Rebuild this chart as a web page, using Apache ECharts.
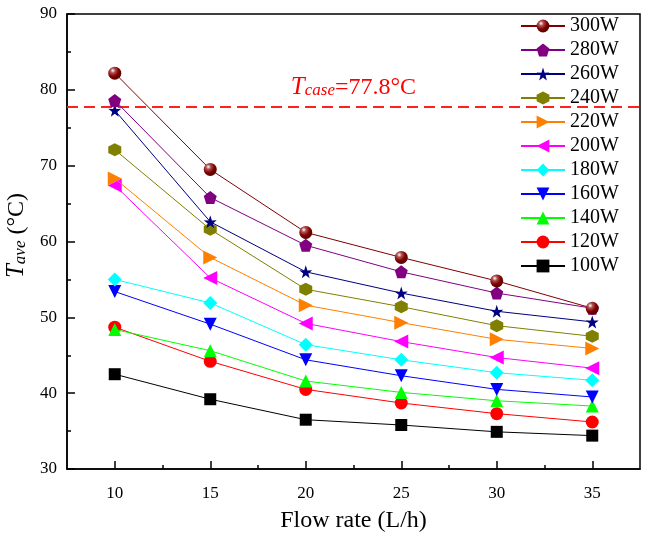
<!DOCTYPE html>
<html>
<head>
<meta charset="utf-8">
<script src="https://cdn.jsdelivr.net/npm/echarts@6/dist/echarts.min.js"></script>
<style>
html,body{margin:0;padding:0;background:#fff;}
#c{width:648px;height:538px;}
</style>
</head>
<body>
<div id="c"></div>
<script>
const flowRates = [10, 15, 20, 25, 30, 35];
const powerLabels = ['300W','280W','260W','240W','220W','200W','180W','160W','140W','120W','100W'];
const t300 = [82.2, 69.5, 61.2, 57.9, 54.8, 51.2];
const t280 = [78.6, 65.8, 59.5, 56.0, 53.2, 51.2];
const t260 = [77.3, 62.6, 56.0, 53.2, 50.8, 49.4];
const t240 = [72.1, 61.6, 53.7, 51.4, 48.9, 47.5];
const t220 = [68.3, 57.9, 51.6, 49.3, 47.1, 45.9];
const t200 = [67.4, 55.2, 49.2, 46.8, 44.7, 43.3];
const t180 = [55.0, 51.9, 46.4, 44.4, 42.7, 41.7];
const t160 = [53.4, 49.1, 44.4, 42.3, 40.5, 39.5];
const t140 = [48.4, 45.6, 41.6, 40.1, 39.0, 38.3];
const t120 = [48.7, 44.2, 40.5, 38.7, 37.3, 36.2];
const t100 = [42.5, 39.2, 36.5, 35.8, 34.9, 34.4];
const tCase = 77.8;
const xMajorTicks = [10, 15, 20, 25, 30, 35];
const xMinorTicks = [12.5, 17.5, 22.5, 27.5, 32.5];

const allValues = [t300, t280, t260, t240, t220, t200, t180, t160, t140, t120, t100];
const colors = ['#800000','#800080','#000080','#808000','#FF8000','#FF00FF','#00FFFF','#0000FF','#00FF00','#FF0000','#000000'];
const star = 'path://M50,0L62,36L98,35L69,57L79,91L50,70L21,91L31,57L2,35L38,36Z';
const symbols = [
  'circle',
  'path://M50,0L97.6,34.5L79.4,90.5L20.6,90.5L2.4,34.5Z',
  star,
  'path://M50,0L93.3,25L93.3,75L50,100L6.7,75L6.7,25Z',
  'path://M0,0L10,5L0,10Z',
  'path://M10,0L0,5L10,10Z',
  'diamond',
  'path://M0,0L10,0L5,10Z',
  'triangle',
  'circle',
  'rect'
];
const sizes = [13, 13, 13, 13, 14, 14, 14, 13, 13, 13, 12];
const serif = '"Liberation Serif","Times New Roman",serif';

const series = allValues.map((vals, i) => {
  let color = colors[i];
  let itemColor = color;
  if (i === 0) {
    itemColor = {type:'radial', x:0.35, y:0.3, r:0.75, colorStops:[
      {offset:0, color:'#ffffff'}, {offset:0.25, color:'#b05050'}, {offset:0.6, color:'#800000'}, {offset:1, color:'#500000'}]};
  }
  const s = {
    name: powerLabels[i],
    type: 'line',
    data: flowRates.map((x, j) => [x, vals[j]]),
    symbol: symbols[i],
    symbolSize: sizes[i],
    showAllSymbol: true,
    lineStyle: {color: color, width: 1},
    itemStyle: {color: itemColor, borderWidth: 0},
    emphasis: {disabled: true},
    z: 20 - i,
    animation: false
  };
  if (i === 0) {
    s.markLine = {
      silent: true,
      symbol: 'none',
      animation: false,
      lineStyle: {color: '#FF2020', type: [11, 6], width: 2},
      data: [{yAxis: tCase}],
      label: {
        show: true,
        position: 'insideMiddleTop',
        distance: 7,
        formatter: '{t|T}{s|case}{n|=' + tCase.toFixed(1) + '°C}',
        rich: {
          t: {fontFamily: serif, fontStyle: 'italic', fontSize: 25, color: '#FF0000', lineHeight: 26, verticalAlign: 'bottom'},
          s: {fontFamily: serif, fontStyle: 'italic', fontSize: 17, color: '#FF0000', lineHeight: 26, verticalAlign: 'bottom', padding: [12, 0, 0, 0]},
          n: {fontFamily: serif, fontSize: 24, color: '#FF0000', lineHeight: 26, verticalAlign: 'bottom'}
        }
      }
    };
  }
  return s;
});

const chart = echarts.init(document.getElementById('c'), null, {renderer: 'canvas'});
chart.setOption({
  backgroundColor: '#fff',
  animation: false,
  grid: {left: 67, right: 8, top: 14, bottom: 69, show: true, borderColor: '#000', borderWidth: 1.5, backgroundColor: 'transparent', outerBoundsMode: 'none', containLabel: false},
  legend: {
    orient: 'vertical',
    left: 520,
    top: 16,
    padding: 0,
    itemWidth: 44,
    itemHeight: 16,
    itemGap: 4,
    data: powerLabels,
    textStyle: {fontFamily: serif, fontSize: 20, color: '#000'},
    selectedMode: false
  },
  xAxis: [{
    type: 'value',
    min: 7.5,
    max: 37.5,
    interval: 2.5,
    name: 'Flow rate (L/h)',
    nameLocation: 'middle',
    nameGap: 40,
    nameTextStyle: {fontFamily: serif, fontSize: 24, color: '#000'},
    axisLine: {show: true, onZero: false, lineStyle: {color: '#000', width: 1.5}},
    axisTick: {show: true, inside: true, length: 8, customValues: xMajorTicks, lineStyle: {color: '#000', width: 1.5}},
    axisLabel: {customValues: xMajorTicks, fontFamily: serif, fontSize: 17, color: '#000', margin: 16},
    splitLine: {show: false}
  }, {
    type: 'value',
    min: 7.5,
    max: 37.5,
    interval: 2.5,
    position: 'bottom',
    axisLine: {show: false, onZero: false},
    axisTick: {show: true, inside: true, length: 4, customValues: xMinorTicks, lineStyle: {color: '#000', width: 1.5}},
    axisLabel: {show: false},
    splitLine: {show: false}
  }],
  yAxis: {
    type: 'value',
    min: 30,
    max: 90,
    interval: 10,
    name: '{t|T}{s|ave}{n| (°C)}',
    nameLocation: 'middle',
    nameRotate: 90,
    nameGap: 24,
    nameTextStyle: {
      padding: [0, 0, 0, 12],
      rich: {
        t: {fontFamily: serif, fontStyle: 'italic', fontSize: 25, color: '#000', lineHeight: 26, verticalAlign: 'bottom'},
        s: {fontFamily: serif, fontStyle: 'italic', fontSize: 17, color: '#000', lineHeight: 26, verticalAlign: 'bottom', padding: [12, 0, 0, 0]},
        n: {fontFamily: serif, fontSize: 24, color: '#000', lineHeight: 26, verticalAlign: 'bottom'}
      }
    },
    axisLine: {show: true, onZero: false, lineStyle: {color: '#000', width: 1.5}},
    axisTick: {show: true, inside: true, length: 8, lineStyle: {color: '#000', width: 1.5}},
    minorTick: {show: true, splitNumber: 2, length: 4, lineStyle: {color: '#000', width: 1.5}},
    axisLabel: {fontFamily: serif, fontSize: 17, color: '#000', margin: 10},
    splitLine: {show: false}
  },
  series: series
});
</script>
</body>
</html>
